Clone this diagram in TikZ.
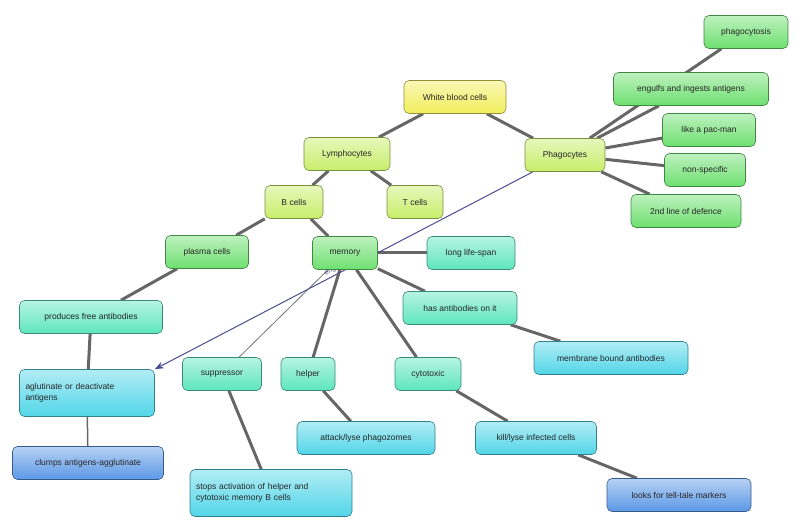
\documentclass[tikz,border=0pt]{standalone}
\usepackage{fontspec}
\setmainfont{Liberation Sans}
\usetikzlibrary{backgrounds,arrows.meta}
\definecolor{cyel}{HTML}{F2EE5C}
\definecolor{cyg}{HTML}{C8EE6A}
\definecolor{cgr}{HTML}{6EE070}
\definecolor{ctl}{HTML}{5EE6BE}
\definecolor{ccy}{HTML}{52D6E8}
\definecolor{cbl}{HTML}{5C98E6}
\tikzset{
  box/.style={draw=#1!60!black, line width=0.6pt, rounded corners=5pt, minimum height=33pt,
    top color=#1!45!white, bottom color=#1, inner xsep=6pt,
    font=\fontsize{8.5}{10.5}\selectfont, text=black!85},
  conn/.style={draw=black!60, line width=3pt},
  thin/.style={draw=black!55, line width=0.8pt},
  eng/.style={draw=black!30!blue!40!gray, line width=1pt}
}
\begin{document}
\begin{tikzpicture}[x=1pt,y=-1pt]
\useasboundingbox (0,0) rectangle (800,526);
\node[box=cyel, minimum width=102pt] (wbc) at (455,97) {White blood cells};
\node[box=cyg, minimum width=86pt] (lym) at (347,154) {Lymphocytes};
\node[box=cyg, minimum width=80pt] (pha) at (565,155) {Phagocytes};
\node[box=cgr, minimum width=84pt] (phc) at (746,32) {phagocytosis};
\node[box=cgr, minimum width=155pt] (eng) at (691,89) {engulfs and ingests antigens};
\node[box=cgr, minimum width=93pt] (pac) at (709,130) {like a pac-man};
\node[box=cgr, minimum width=81pt] (nsp) at (705,170) {non-specific};
\node[box=cgr, minimum width=110pt] (def) at (686,211) {2nd line of defence};
\node[box=cyg, minimum width=58pt] (bc) at (294,202) {B cells};
\node[box=cyg, minimum width=56pt] (tc) at (415,202) {T cells};
\node[box=cgr, minimum width=83pt] (pc) at (207,252) {plasma cells};
\node[box=cgr, minimum width=65pt] (mem) at (345,253) {memory};
\node[box=ctl, minimum width=88pt] (lls) at (471,253) {long life-span};
\node[box=ctl, minimum width=143pt] (pfa) at (91,317) {produces free antibodies};
\node[box=ctl, minimum width=114pt] (hab) at (460,308) {has antibodies on it};
\node[box=ccy, minimum width=154pt] (mba) at (611,358) {membrane bound antibodies};
\node[box=ccy, minimum width=135pt, minimum height=47pt, align=left, text width=123pt] (agl) at (87,393) {aglutinate or deactivate\\antigens};
\node[box=ctl, minimum width=79pt] (sup) at (222,374) {suppressor};
\node[box=ctl, minimum width=54pt] (hel) at (308,374) {helper};
\node[box=ctl, minimum width=66pt] (cyt) at (428,374) {cytotoxic};
\node[box=cbl, minimum width=151pt] (clu) at (88,463) {clumps antigens-agglutinate};
\node[box=ccy, minimum width=138pt] (att) at (366,438) {attack/lyse phagozomes};
\node[box=ccy, minimum width=121pt] (kil) at (536,438) {kill/lyse infected cells};
\node[box=ccy, minimum width=162pt, minimum height=47pt, align=left, text width=150pt] (sto) at (271,493) {stops activation of helper and\\cytotoxic memory B cells};
\node[box=cbl, minimum width=144pt] (loo) at (679,495) {looks for tell-tale markers};
\begin{scope}[on background layer]
\draw[conn] (wbc) -- (lym);
\draw[conn] (wbc) -- (pha);
\draw[conn] (lym) -- (bc);
\draw[conn] (lym) -- (tc);
\draw[conn] (pha) -- (phc);
\draw[conn] (pha) -- (eng);
\draw[conn] (pha) -- (pac);
\draw[conn] (pha) -- (nsp);
\draw[conn] (pha) -- (def);
\draw[conn] (bc) -- (pc);
\draw[conn] (bc) -- (mem);
\draw[conn] (pc) -- (pfa);
\draw[conn] (pfa) -- (agl);
\draw[conn, line width=1.5pt] (agl) -- (clu);
\draw[conn] (mem) -- (lls);
\draw[conn] (mem) -- (hab);
\draw[conn] (hab) -- (mba);
\draw[thin] (mem) -- (sup);
\draw[conn] (mem) -- (hel);
\draw[conn] (mem) -- (cyt);
\draw[conn] (sup) -- (sto);
\draw[conn] (hel) -- (att);
\draw[conn] (cyt) -- (kil);
\draw[conn] (kil) -- (loo);
\draw[eng, -{Stealth[length=9pt,width=7pt]}] (pha) -- node[pos=0.52, sloped, above=-1pt, font=\fontsize{7}{8}\selectfont, text=black!30!blue!40!gray] {engulf} (agl.north east);
\end{scope}
\end{tikzpicture}
\end{document}
